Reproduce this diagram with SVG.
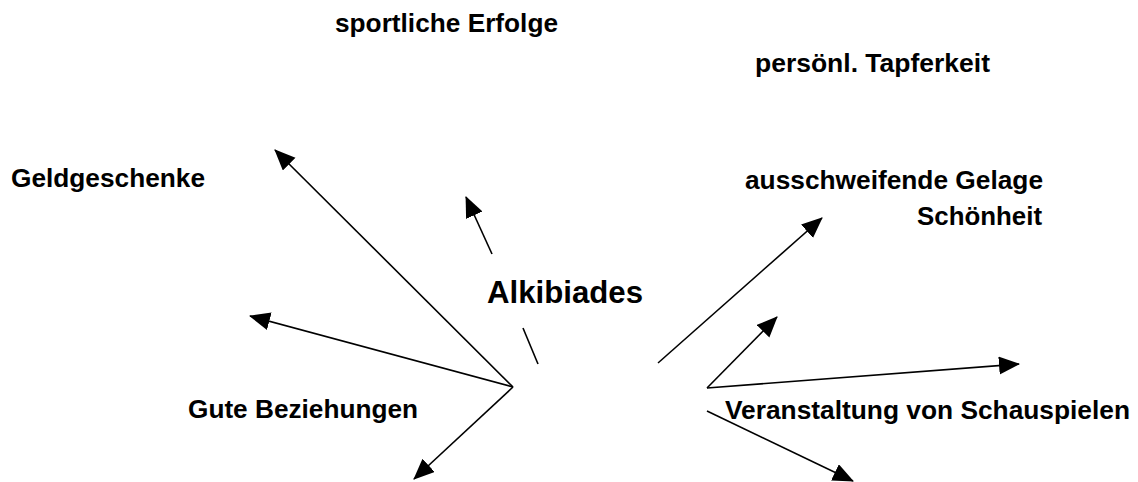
<svg xmlns="http://www.w3.org/2000/svg" width="1138" height="482" viewBox="0 0 1138 482">
  <style>
    .lbl { font-family: "Liberation Sans", Arial, sans-serif; font-weight: bold; font-size: 25px; fill: #000; }
    .main { font-size: 31px; }
    .conn line { stroke: #000; stroke-width: 1.6; fill: none; }
  </style>
  <defs>
    <marker id="ah" markerUnits="userSpaceOnUse" markerWidth="22" markerHeight="20" refX="20" refY="9" orient="auto">
      <path d="M0,0 L21,9 L0,18 z" fill="#000"/>
    </marker>
  </defs>
  <rect width="1138" height="482" fill="#fff"/>

  <g id="node-sportliche-erfolge"><text class="lbl" x="335" y="32" textLength="223" lengthAdjust="spacingAndGlyphs">sportliche Erfolge</text></g>
  <g id="node-persoenl-tapferkeit"><text class="lbl" x="755" y="72" textLength="235" lengthAdjust="spacingAndGlyphs">persönl. Tapferkeit</text></g>
  <g id="node-geldgeschenke"><text class="lbl" x="11" y="187" textLength="194" lengthAdjust="spacingAndGlyphs">Geldgeschenke</text></g>
  <g id="node-ausschweifende-gelage"><text class="lbl" x="745" y="189" textLength="298" lengthAdjust="spacingAndGlyphs">ausschweifende Gelage</text></g>
  <g id="node-schoenheit"><text class="lbl" x="917" y="225" textLength="125" lengthAdjust="spacingAndGlyphs">Schönheit</text></g>
  <g id="node-alkibiades"><text class="lbl main" x="487" y="303" textLength="156" lengthAdjust="spacingAndGlyphs">Alkibiades</text></g>
  <g id="node-gute-beziehungen"><text class="lbl" x="188" y="418" textLength="230" lengthAdjust="spacingAndGlyphs">Gute Beziehungen</text></g>
  <g id="node-veranstaltung"><text class="lbl" x="725" y="419" textLength="405" lengthAdjust="spacingAndGlyphs">Veranstaltung von Schauspielen</text></g>

  <g id="connectors" class="conn">
    <line x1="513" y1="387" x2="275" y2="150" marker-end="url(#ah)"/>
    <line x1="513" y1="387" x2="250" y2="316" marker-end="url(#ah)"/>
    <line x1="513" y1="387" x2="414" y2="479" marker-end="url(#ah)"/>
    <line x1="492" y1="254" x2="466" y2="197" marker-end="url(#ah)"/>
    <line x1="523" y1="328" x2="538" y2="364"/>
    <line x1="658" y1="363" x2="822" y2="218" marker-end="url(#ah)"/>
    <line x1="707" y1="388" x2="777" y2="317" marker-end="url(#ah)"/>
    <line x1="707" y1="388" x2="1019" y2="364" marker-end="url(#ah)"/>
    <line x1="707" y1="411" x2="853" y2="481" marker-end="url(#ah)"/>
  </g>
</svg>
